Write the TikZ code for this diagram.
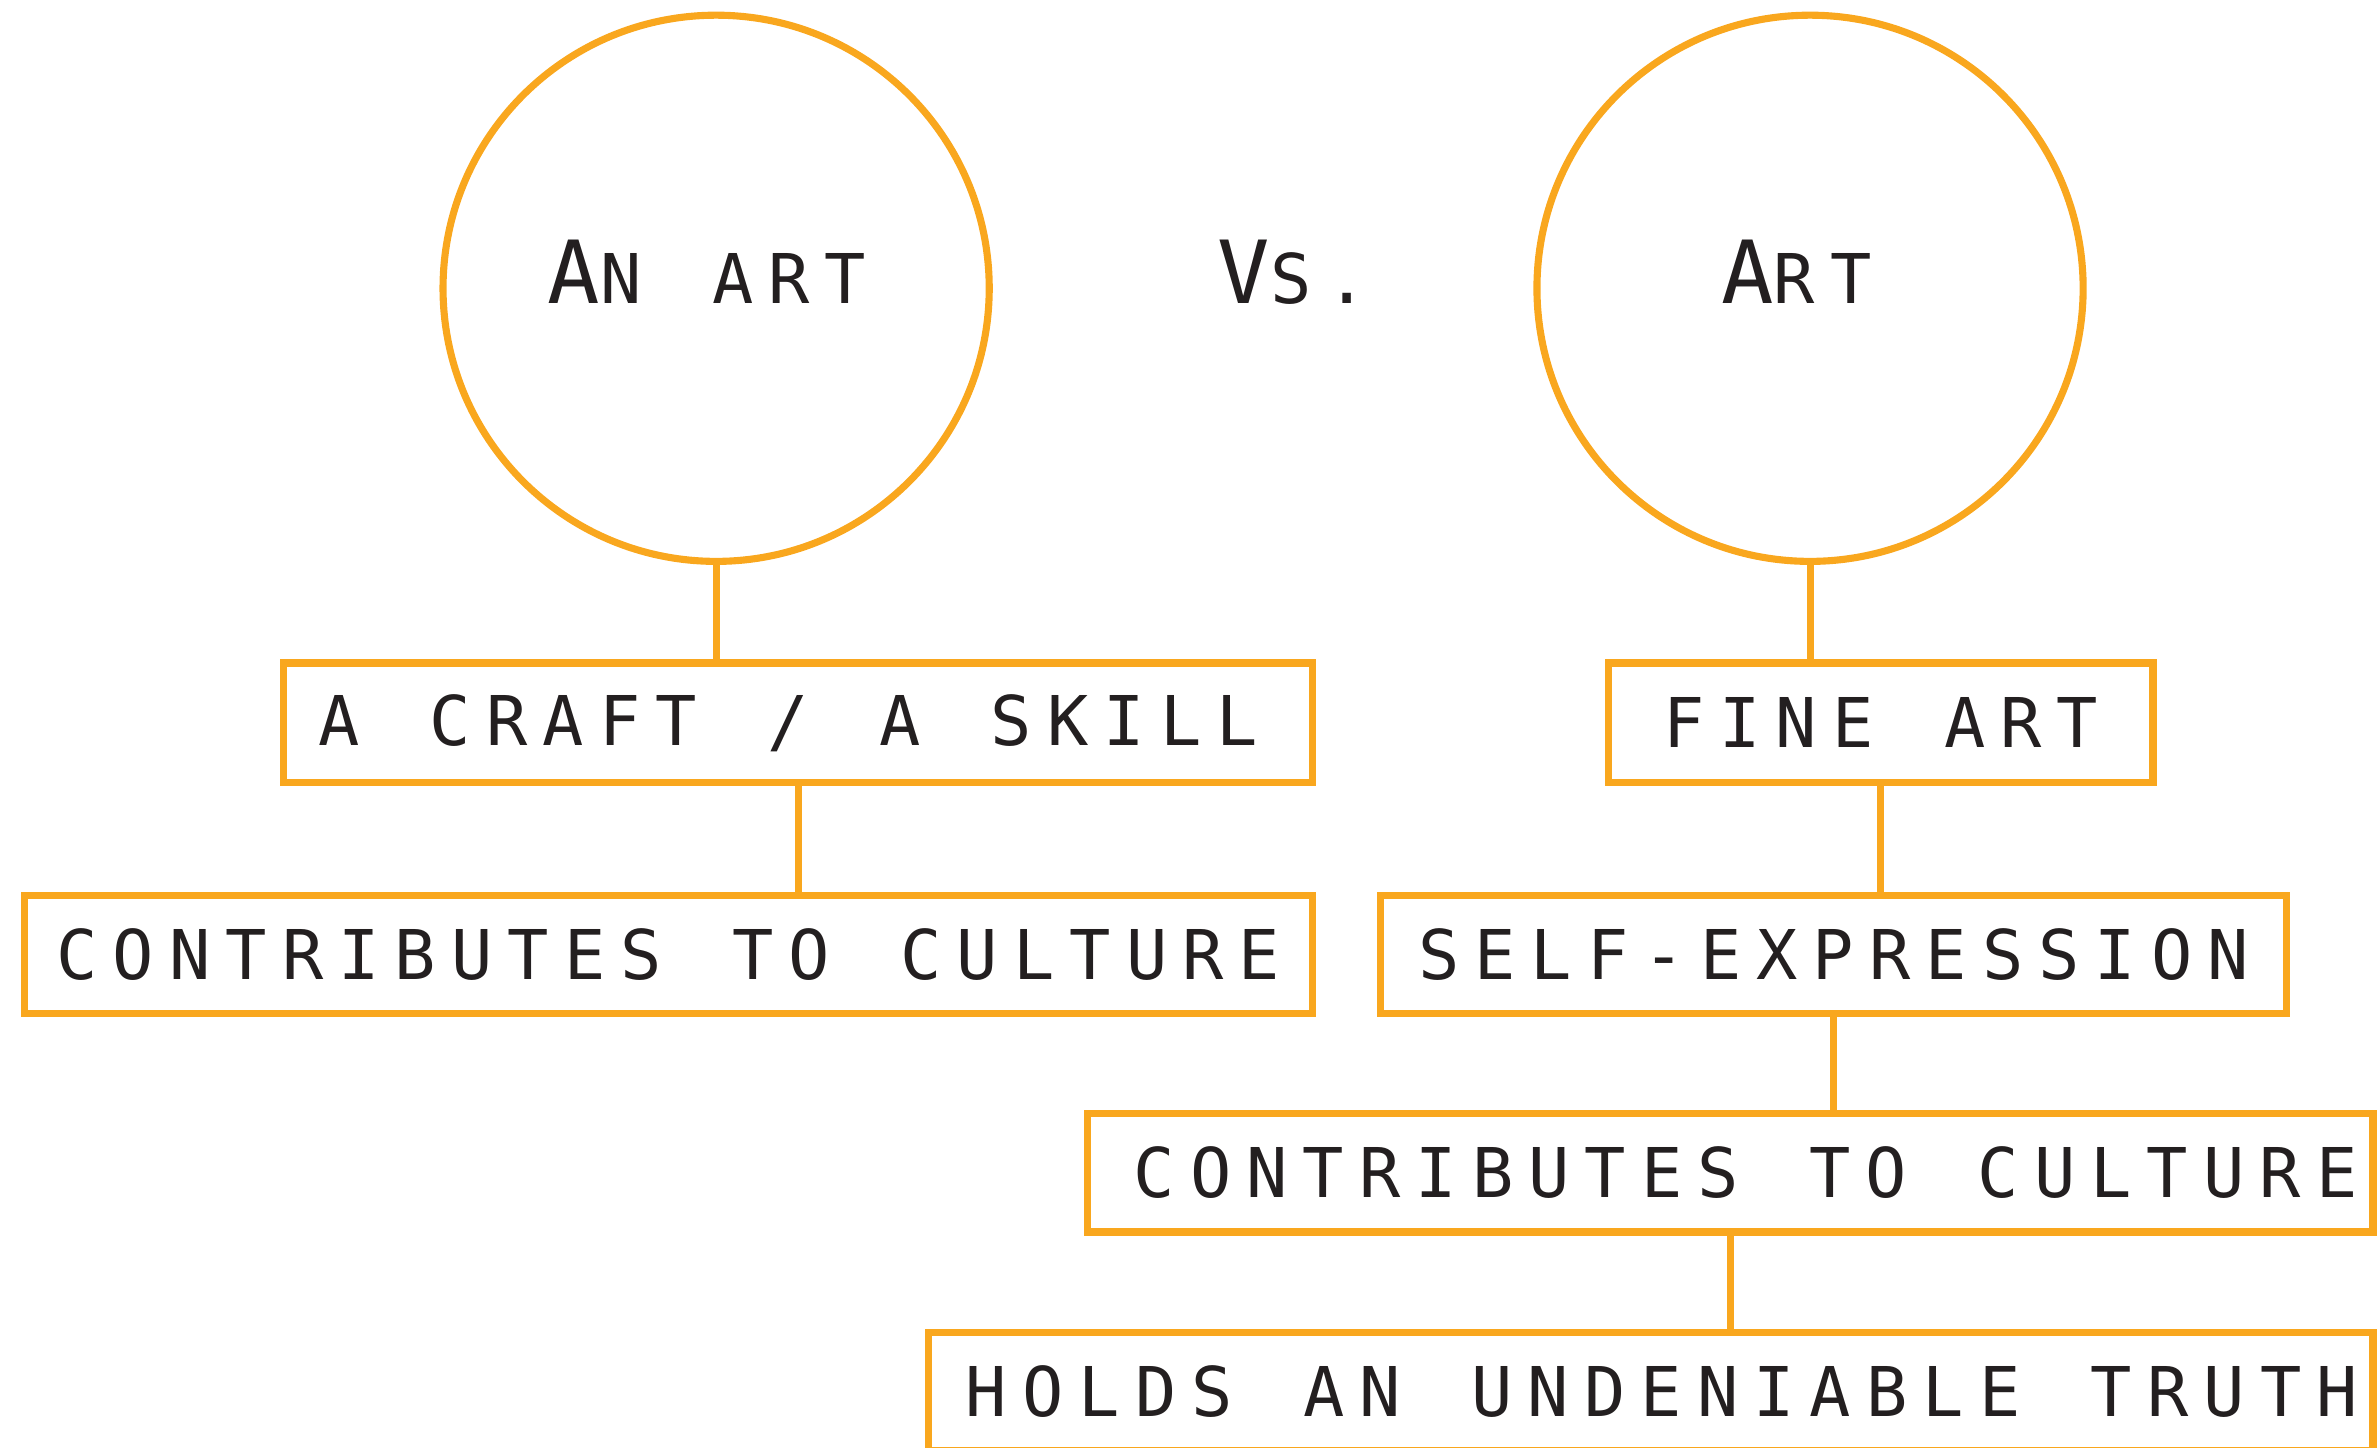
\documentclass[tikz,border=0pt]{standalone}
\usepackage{fontspec}
\usetikzlibrary{positioning}
\newfontfamily\labelfont[LetterSpace=22, WordSpace=1.25]{DejaVu Sans Mono}
\definecolor{artorange}{HTML}{F9A71E}
\definecolor{artink}{HTML}{231F20}
\newcommand{\tallcap}[1]{{\fontsize{24.5pt}{28pt}\selectfont #1}}

\begin{document}
\begin{tikzpicture}[
    every node/.style={
        text=artink,
        font=\labelfont\fontsize{19.3pt}{22pt}\selectfont},
    ring/.style={
        draw=artorange,
        line width=2pt,
        circle,
        inner sep=0pt,
        minimum size=5.4cm},
    tag/.style={
        draw=artorange,
        line width=2pt,
        rectangle,
        inner sep=0pt,
        minimum height=1.17cm},
    link/.style={draw=artorange, line width=2pt}]

    \useasboundingbox (0,0) rectangle (23.52,-14.31);

    \node[ring] (artL) at (7.08,-2.85) {};
    \node[ring] (artR) at (17.895,-2.85) {};

    \node[anchor=base] (nameL) at (6.99,-3) {\tallcap{A}N ART};
    \node[anchor=base] (versus) at (12.78,-3) {\tallcap{V}S.};
    \node[anchor=base] (nameR) at (17.76,-3) {\tallcap{A}RT};

    \node[tag, minimum width=10.17cm, minimum height=1.185cm] (craft) at (7.89,-7.1475) {A CRAFT / A SKILL\hspace*{0.2cm}};
    \node[tag, minimum width=12.735cm] (cultL) at (6.6075,-9.435) {CONTRIBUTES TO CULTURE};

    \node[tag, minimum width=5.385cm, minimum height=1.185cm] (fine) at (18.5925,-7.1475) {FINE ART};
    \node[tag, minimum width=8.955cm] (self) at (18.1275,-9.435) {SELF-EXPRESSION};
    \node[tag, minimum width=12.705cm] (cultR) at (17.1075,-11.595) {\hspace*{0.3cm}CONTRIBUTES TO CULTURE};
    \node[tag, minimum width=14.28cm] (truth) at (16.32,-13.755) {\hspace*{0.22cm}HOLDS AN UNDENIABLE TRUTH};

    \draw[link] (artL.south) -- (artL.south |- craft.north);
    \draw[link] (craft.south) -- (craft.south |- cultL.north);

    \draw[link] (artR.south) -- (artR.south |- fine.north);
    \draw[link] (fine.south) -- (fine.south |- self.north);
    \draw[link] (self.south) -- (self.south |- cultR.north);
    \draw[link] (cultR.south) -- (cultR.south |- truth.north);
\end{tikzpicture}
\end{document}
